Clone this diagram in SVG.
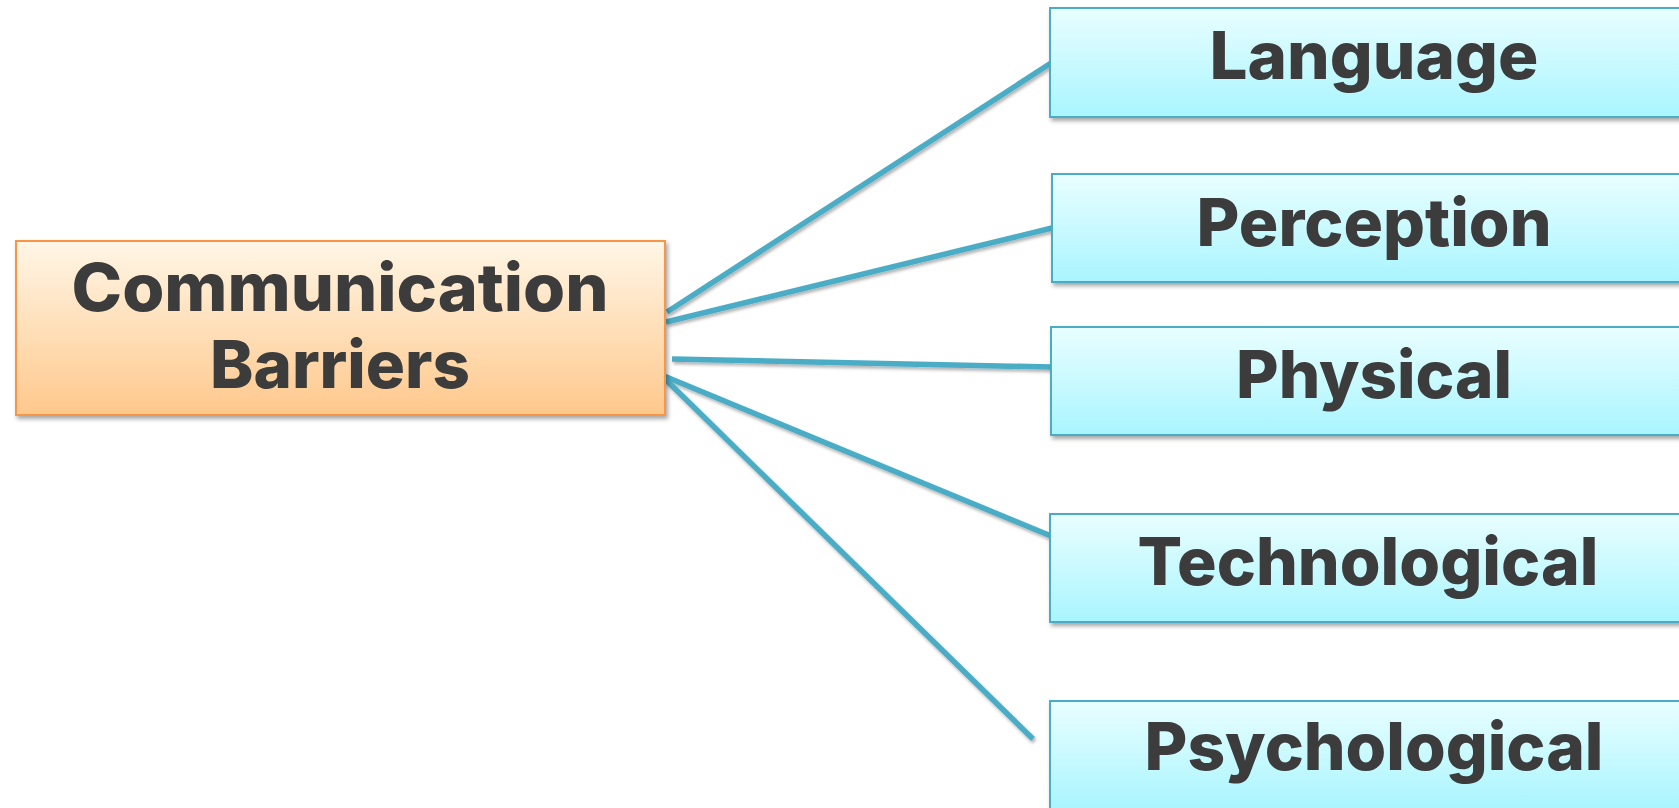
<svg xmlns="http://www.w3.org/2000/svg" width="1679" height="808" viewBox="0 0 1679 808">
  <defs>
    <linearGradient id="gradCore" x1="0" y1="0" x2="0" y2="1">
      <stop offset="0" stop-color="#FFF6E6"/>
      <stop offset="1" stop-color="#FFC88C"/>
    </linearGradient>
    <linearGradient id="gradLeaf" x1="0" y1="0" x2="0" y2="1">
      <stop offset="0" stop-color="#E9FEFF"/>
      <stop offset="1" stop-color="#A9F5FF"/>
    </linearGradient>
    <filter id="shadow" x="-10%" y="-20%" width="130%" height="160%">
      <feDropShadow dx="2" dy="3" stdDeviation="2" flood-color="#000" flood-opacity="0.35"/>
    </filter>
    <filter id="lineShadow" x="-10%" y="-10%" width="130%" height="130%">
      <feDropShadow dx="1.5" dy="2.5" stdDeviation="1.5" flood-color="#000" flood-opacity="0.3"/>
    </filter>
  </defs>
  <style>
    .core { fill: url(#gradCore); stroke: #F79646; stroke-width: 2; filter: url(#shadow); }
    .leaf { fill: url(#gradLeaf); stroke: #4BACC6; stroke-width: 2; filter: url(#shadow); }
    .label { font-family: Inter, "Liberation Sans", sans-serif; font-weight: 800; font-size: 66px; fill: #3C3C3C; text-anchor: middle; }
    .link { stroke: #4BACC6; stroke-width: 5.5; fill: none; stroke-linecap: butt; }
  </style>
  <rect width="1679" height="808" fill="#FFFFFF"/>

  <!-- connectors from the central node to each barrier type -->
  <g id="connectors" filter="url(#lineShadow)">
    <line class="link" x1="667" y1="312" x2="1051" y2="63"/>
    <line class="link" x1="666" y1="322" x2="1052" y2="228"/>
    <line class="link" x1="672" y1="359" x2="1051" y2="367"/>
    <line class="link" x1="664" y1="376" x2="1051" y2="536"/>
    <line class="link" x1="664" y1="378" x2="1033" y2="739"/>
  </g>

  <g id="node-communication-barriers">
    <rect class="core" x="16" y="241" width="649" height="174"/>
    <text class="label" x="340" y="311" textLength="537" lengthAdjust="spacingAndGlyphs">Communication</text>
    <text class="label" x="340" y="388" textLength="260" lengthAdjust="spacingAndGlyphs">Barriers</text>
  </g>

  <g id="node-language">
    <rect class="leaf" x="1050" y="8" width="660" height="109"/>
    <text class="label" x="1374" y="79" textLength="329" lengthAdjust="spacingAndGlyphs">Language</text>
  </g>

  <g id="node-perception">
    <rect class="leaf" x="1052" y="174" width="660" height="108"/>
    <text class="label" x="1374" y="246" textLength="355" lengthAdjust="spacingAndGlyphs">Perception</text>
  </g>

  <g id="node-physical">
    <rect class="leaf" x="1051" y="327" width="660" height="108"/>
    <text class="label" x="1374" y="398" textLength="276" lengthAdjust="spacingAndGlyphs">Physical</text>
  </g>

  <g id="node-technological">
    <rect class="leaf" x="1050" y="514" width="660" height="108"/>
    <text class="label" x="1368" y="585" textLength="461" lengthAdjust="spacingAndGlyphs">Technological</text>
  </g>

  <g id="node-psychological">
    <rect class="leaf" x="1050" y="701" width="660" height="108"/>
    <text class="label" x="1374" y="770" textLength="459" lengthAdjust="spacingAndGlyphs">Psychological</text>
  </g>
</svg>
